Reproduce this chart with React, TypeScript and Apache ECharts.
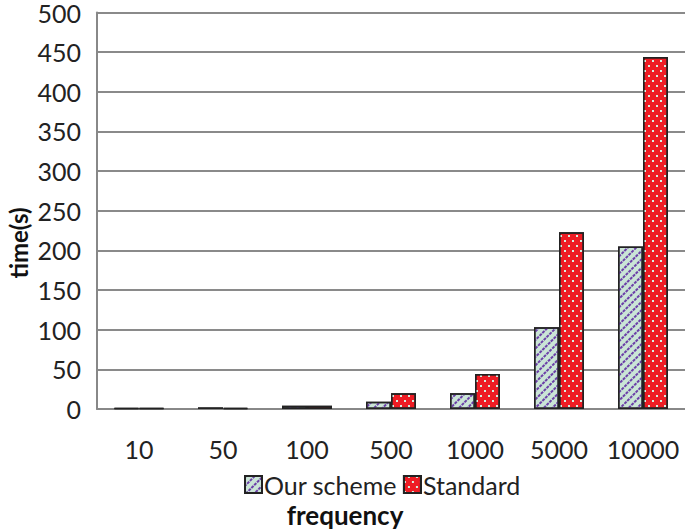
import React, { useEffect, useRef } from "react";
import * as echarts from "echarts";

const categories = ["10", "50", "100", "500", "1000", "5000", "10000"];
const ourScheme = [1, 2, 4, 9, 20, 103, 205];
const standard = [1, 1.5, 4, 20, 44, 223, 444];
const yTicks = { min: 0, max: 500, interval: 50 };

export default function App() {
  const ref = useRef<HTMLDivElement>(null);
  useEffect(() => {
    const chart = echarts.init(ref.current!, null, { renderer: "svg" });
    const font = "Lato, 'Open Sans', sans-serif";
    chart.setOption({
      animation: false,
      backgroundColor: "#ffffff",
      grid: { left: 97, top: 10, width: 588, height: 399, containLabel: false },
      legend: {
        left: 239,
        top: 467,
        itemWidth: 17,
        itemHeight: 17,
        itemGap: 6,
        icon: "rect",
        textStyle: { fontFamily: font, fontSize: 25, lineHeight: 23, color: "#222", padding: [0, 0, 0, -3] },
        data: ["Our scheme", "Standard"],
      },
      xAxis: {
        type: "category",
        data: categories,
        axisLine: { lineStyle: { color: "#888", width: 2 } },
        axisTick: { show: false },
        axisLabel: { fontFamily: font, fontSize: 25, color: "#222", margin: 27, interval: 0 },
      },
      yAxis: {
        type: "value",
        min: yTicks.min,
        max: yTicks.max,
        interval: yTicks.interval,
        axisLine: { show: true, lineStyle: { color: "#888", width: 2 } },
        axisTick: { show: false },
        splitLine: { lineStyle: { color: "#8a8a8a", width: 2 } },
        axisLabel: { fontFamily: font, fontSize: 25, lineHeight: 20, color: "#222", margin: 16 },
      },
      graphic: [
        {
          type: "text",
          x: 18,
          y: 243,
          rotation: Math.PI / 2,
          style: {
            text: "time(s)",
            fontFamily: font,
            fontSize: 24,
            fontWeight: "bold",
            fill: "#111",
            align: "center",
            verticalAlign: "middle",
          },
        },
        {
          type: "text",
          x: 345,
          y: 515,
          style: {
            text: "frequency",
            fontFamily: font,
            fontSize: 26,
            lineHeight: 23,
            fontWeight: "bold",
            fill: "#111",
            align: "center",
            verticalAlign: "middle",
          },
        },
      ],
      series: [
        {
          name: "Our scheme",
          type: "bar",
          data: ourScheme,
          barWidth: 25,
          barGap: "0%",
          itemStyle: {
            color: "#cae5d6",
            borderColor: "#222",
            borderWidth: 1.5,
            decal: {
              symbol: "rect",
              symbolSize: 1,
              color: "#6b3fa8",
              dashArrayX: [3, 1],
              dashArrayY: [1.5, 4],
              rotation: -Math.PI / 4,
            },
          },
        },
        {
          name: "Standard",
          type: "bar",
          data: standard,
          barWidth: 25,
          itemStyle: {
            color: "#ee1c24",
            borderColor: "#222",
            borderWidth: 1.5,
            decal: {
              symbol: "rect",
              symbolSize: 1,
              color: "#d8efe2",
              dashArrayX: [[2, 6], [0, 4, 2, 2]],
              dashArrayY: [2, 2.5],
            },
          },
        },
      ],
    });
    return () => chart.dispose();
  }, []);
  return <div ref={ref} style={{ width: 685, height: 530, position: "absolute", left: 0, top: 0 }} />;
}
